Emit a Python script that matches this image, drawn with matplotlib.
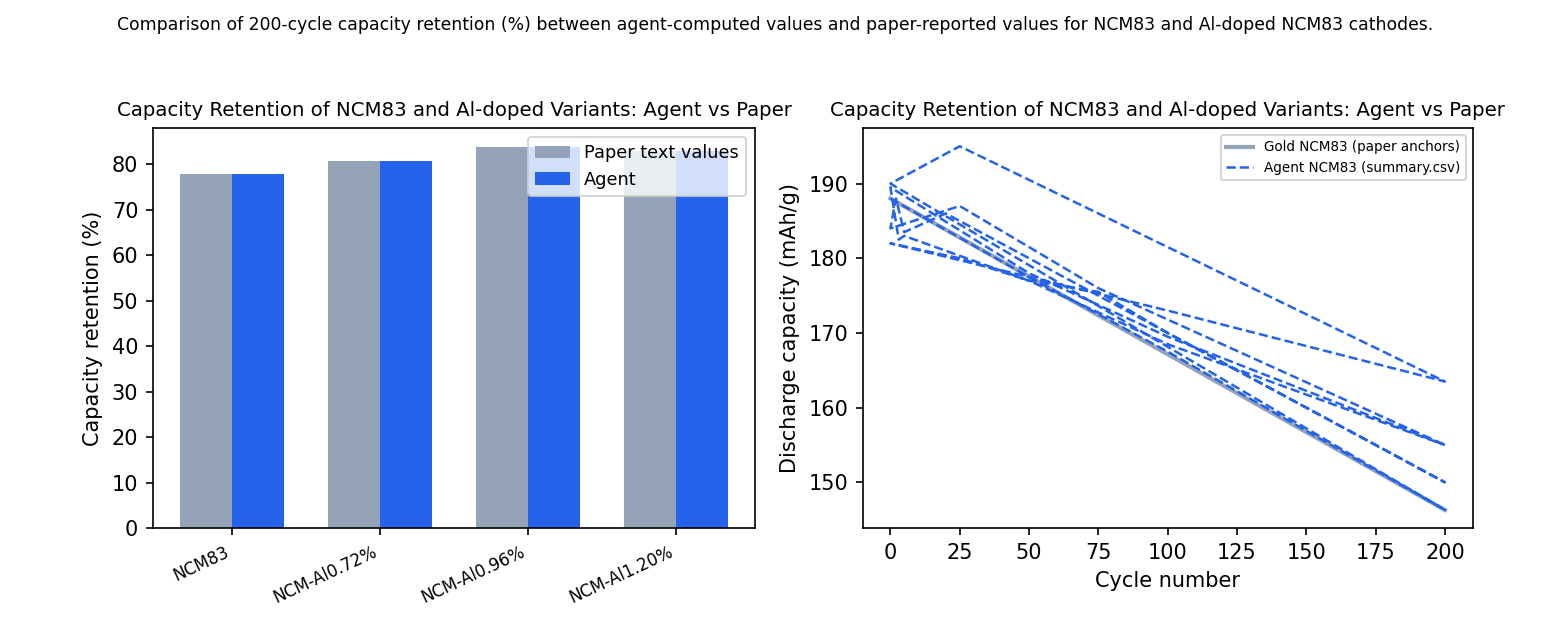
import numpy as np
import matplotlib.pyplot as plt

samples = ['NCM83', 'NCM-Al0.72%', 'NCM-Al0.96%', 'NCM-Al1.20%']
paper_ret = [77.8, 80.7, 83.8, 83.0]
agent_ret = [77.8, 80.7, 83.8, 83.0]

gold_cycle = [0, 200]
gold_cap = [188.0, 146.3]

# agent rows from summary.csv, in file order (not sorted)
agent_cycle = [0, 50, 100, 200, 0, 25, 200, 100, 50, 0, 25, 50, 75, 100, 200,
               20, 5, 2, 0, 25, 75, 200, 100, 50, 0, 3, 5, 50, 100, 200]
agent_cap = [188.0, 177.5, 167.5, 146.3, 190.0, 195.0, 163.5, 173.0, 177.5, 182.0,
             180.0, 177.0, 175.5, 170.0, 150.0, 186.0, 183.5, 188.0, 184.0, 187.0,
             176.0, 155.0, 169.5, 178.0, 189.5, 182.5, 183.0, 177.0, 168.5, 155.0]

fig = plt.figure(figsize=(10.4, 4.187), dpi=150)
fig.suptitle('Comparison of 200-cycle capacity retention (%) between agent-computed values and paper-reported values for NCM83 and Al-doped NCM83 cathodes.',
             fontsize=8.3, x=0.497, y=0.975)

ax1 = fig.add_axes([0.098, 0.159, 0.386, 0.637])
x = np.arange(len(samples))
w = 0.35
ax1.bar(x - w/2, paper_ret, w, color='#94a3b8', label='Paper text values')
ax1.bar(x + w/2, agent_ret, w, color='#2563eb', label='Agent')
ax1.set_xticks(x)
ax1.set_xticklabels(samples, rotation=25, ha='right', fontsize=8)
ax1.set_ylabel('Capacity retention (%)')
ax1.set_title('Capacity Retention of NCM83 and Al-doped Variants: Agent vs Paper', fontsize=9.5)
ax1.legend(loc='upper right', fontsize=8.5)

ax2 = fig.add_axes([0.553, 0.159, 0.391, 0.637])
ax2.plot(gold_cycle, gold_cap, color='#94a3b8', lw=2, label='Gold NCM83 (paper anchors)')
ax2.plot(agent_cycle, agent_cap, color='#2563eb', ls='--', lw=1.2, label='Agent NCM83 (summary.csv)')
ax2.set_xlabel('Cycle number')
ax2.set_ylabel('Discharge capacity (mAh/g)')
ax2.set_title('Capacity Retention of NCM83 and Al-doped Variants: Agent vs Paper', fontsize=9.5)
ax2.set_xticks(range(0, 201, 25))
ax2.legend(loc='upper right', fontsize=6.5)

fig.savefig('out.png')
